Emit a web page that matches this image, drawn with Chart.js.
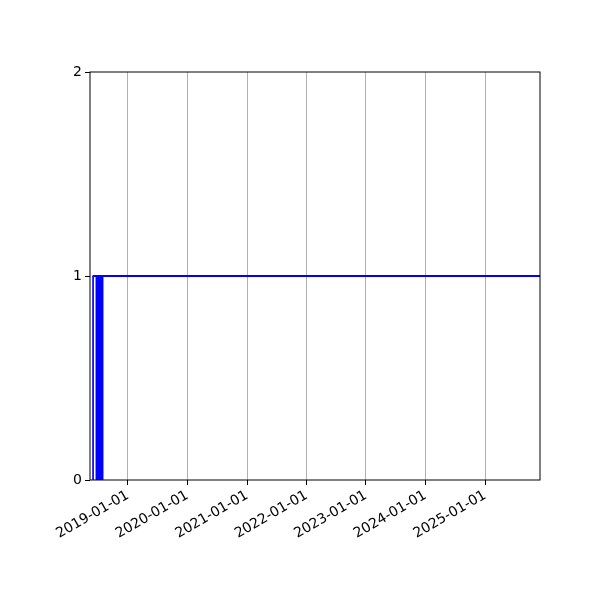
<!DOCTYPE html>
<html>
<head>
<meta charset="utf-8">
<script src="https://cdn.jsdelivr.net/npm/chart.js@4"></script>
<style>
html,body{margin:0;padding:0;background:#fff;}
#wrap{width:600px;height:600px;}
</style>
</head>
<body>
<div id="wrap"><canvas id="c" width="600" height="600"></canvas></div>
<script>
// filled periods (value 1)
const periodStart = ["2018-05-26", "2018-06-16"];
const periodEnd = ["2018-06-06", "2018-08-05"];
const periodValue = [1, 1];

// horizontal level line
const lineDates = ["2018-05-29", "2025-12-04"];
const lineValues = [1, 1];

const xMin = "2018-05-13";
const xMax = "2025-12-04";
const tickYears = [2019, 2020, 2021, 2022, 2023, 2024, 2025];
const yTicks = [0, 1, 2];

const t = s => Date.parse(s + "T00:00:00Z");

// step outline of the filled periods
const fillPts = [];
periodStart.forEach((s, i) => {
  fillPts.push({x: t(s), y: 0});
  fillPts.push({x: t(s), y: periodValue[i]});
  fillPts.push({x: t(periodEnd[i]), y: periodValue[i]});
  fillPts.push({x: t(periodEnd[i]), y: 0});
});

const linePts = lineDates.map((d, i) => ({x: t(d), y: lineValues[i]}));

const frame = {
  id: "frame",
  afterDatasetsDraw(chart){
    const a = chart.chartArea, ctx = chart.ctx;
    ctx.save();
    ctx.strokeStyle = "#000";
    ctx.lineWidth = 1;
    ctx.strokeRect(a.left, a.top, a.right - a.left, a.bottom - a.top);
    ctx.restore();
  }
};

new Chart(document.getElementById("c"), {
  type: "line",
  data: {
    datasets: [
      {
        data: fillPts,
        borderWidth: 0,
        pointRadius: 0,
        backgroundColor: "#0000ff",
        fill: "origin",
        tension: 0
      },
      {
        data: linePts,
        borderColor: "#0000ff",
        borderWidth: 2,
        pointRadius: 0,
        fill: false
      }
    ]
  },
  plugins: [frame],
  options: {
    responsive: false,
    animation: false,
    layout: {padding: {top: 72, right: 60, left: 0, bottom: 0}},
    plugins: {legend: {display: false}, tooltip: {enabled: false}},
    scales: {
      x: {
        type: "linear",
        min: t(xMin),
        max: t(xMax),
        afterBuildTicks(s){ s.ticks = tickYears.map(y => ({value: t(y + "-01-01")})); },
        afterFit(s){ s.height = 120; },
        ticks: {
          color: "#000",
          font: {family: "DejaVu Sans", size: 14},
          minRotation: 30,
          maxRotation: 30,
          padding: 2,
          callback: v => new Date(v).toISOString().slice(0, 10)
        },
        grid: {color: "#b0b0b0", lineWidth: 1, tickColor: "#000", tickLength: 5},
        border: {display: false}
      },
      y: {
        min: 0,
        max: 2,
        afterBuildTicks(s){ s.ticks = yTicks.map(v => ({value: v})); },
        afterFit(s){ s.width = 90; },
        ticks: {
          color: "#000",
          font: {family: "DejaVu Sans", size: 14},
          padding: 3
        },
        grid: {drawOnChartArea: false, tickColor: "#000", tickLength: 5},
        border: {display: false}
      }
    }
  }
});
</script>
</body>
</html>
